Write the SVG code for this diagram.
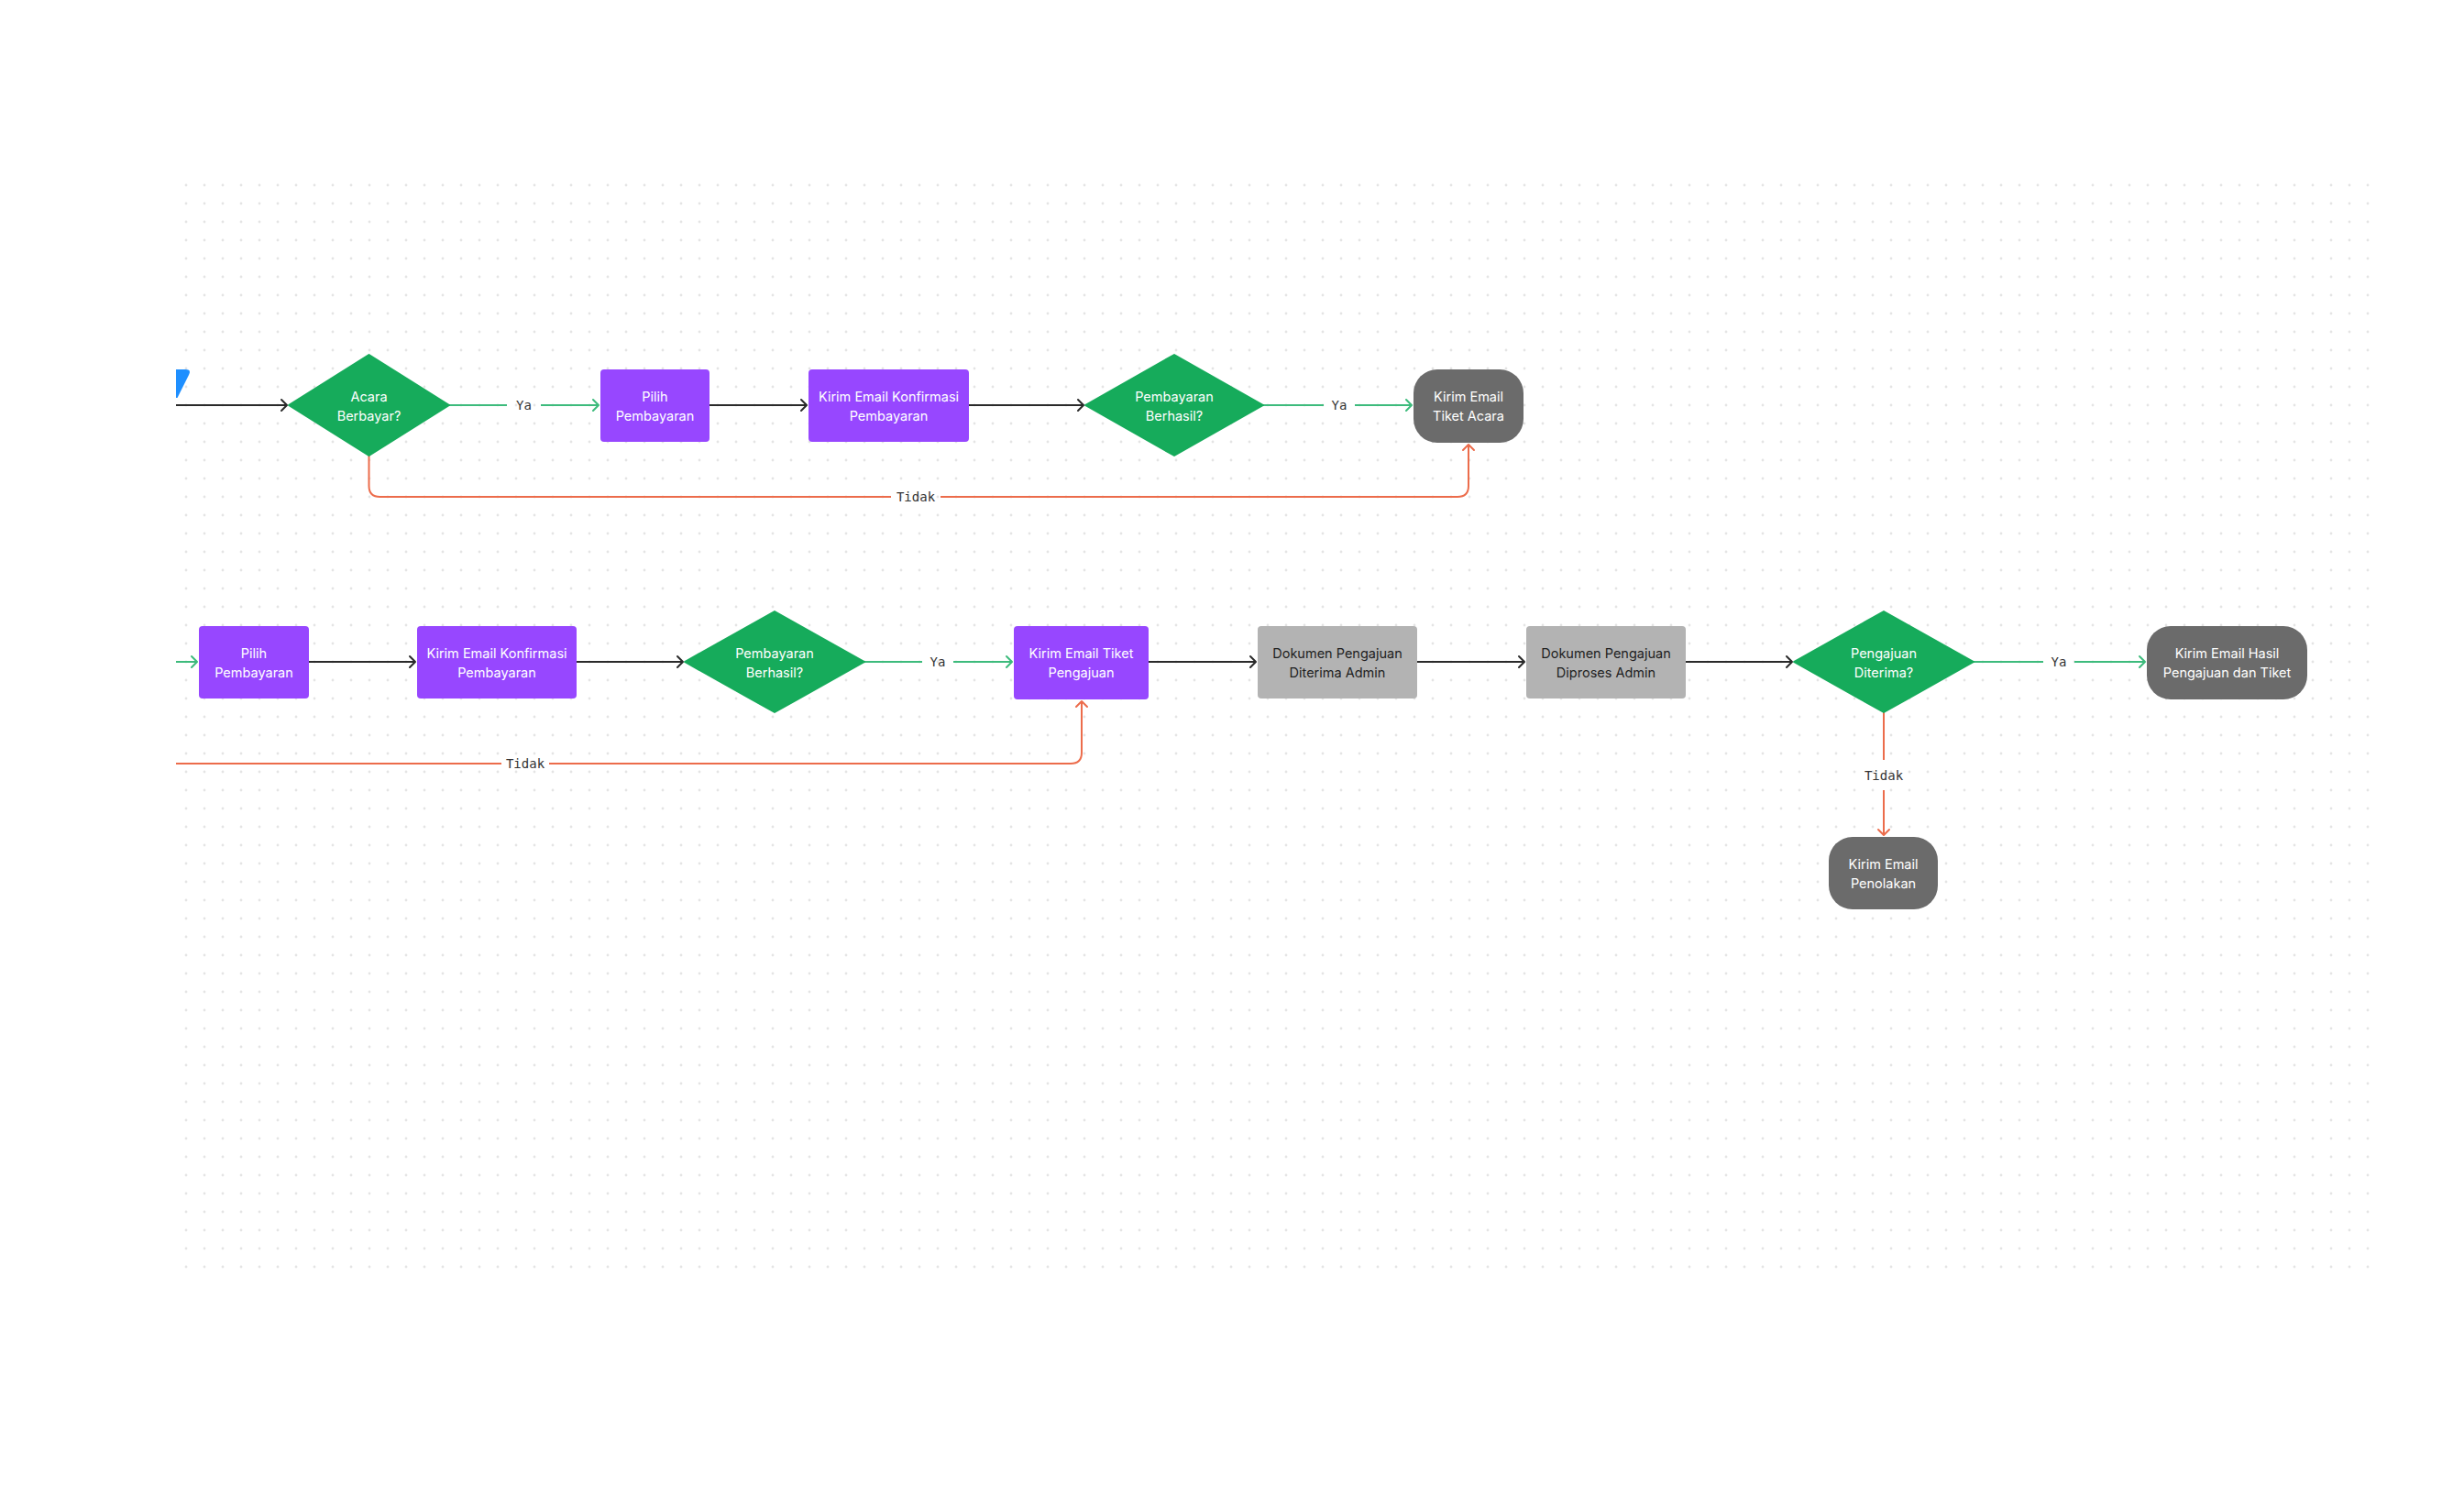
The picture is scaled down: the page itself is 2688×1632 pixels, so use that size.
<svg xmlns="http://www.w3.org/2000/svg" width="2688" height="1632" viewBox="0 0 2688 1632">
<defs>
<pattern id="dots" x="193" y="192" width="20" height="20" patternUnits="userSpaceOnUse">
<circle cx="10" cy="10" r="1.4" fill="#e4e4e4"/>
</pattern>
<marker id="ab" viewBox="-10 -10 20 20" markerWidth="20" markerHeight="20" refX="0" refY="0" orient="auto" markerUnits="userSpaceOnUse"><path d="M-6,-6 L0,0 L-6,6" fill="none" stroke="#2a2a2a" stroke-width="2" stroke-linejoin="round" stroke-linecap="round"/></marker>
<marker id="ag" viewBox="-10 -10 20 20" markerWidth="20" markerHeight="20" refX="0" refY="0" orient="auto" markerUnits="userSpaceOnUse"><path d="M-6,-6 L0,0 L-6,6" fill="none" stroke="#3dbb7c" stroke-width="2" stroke-linejoin="round" stroke-linecap="round"/></marker>
<marker id="ao" viewBox="-10 -10 20 20" markerWidth="20" markerHeight="20" refX="0" refY="0" orient="auto" markerUnits="userSpaceOnUse"><path d="M-6,-6 L0,0 L-6,6" fill="none" stroke="#ec6c4b" stroke-width="2" stroke-linejoin="round" stroke-linecap="round"/></marker>
</defs>
<style>
.dia{fill:#16ab5b}
.pur{fill:#9747ff}
.gry{fill:#b3b3b3}
.drk{fill:#6b6b6b}
.t{font-family:Inter,"Liberation Sans",sans-serif;font-size:14.5px;text-anchor:middle;fill:#ffffff}
.td{font-family:Inter,"Liberation Sans",sans-serif;font-size:14.5px;text-anchor:middle;fill:#1e1e1e}
.lbl{font-family:"DejaVu Sans Mono","Liberation Mono",monospace;font-size:14px;text-anchor:middle;fill:#333333}
.cb{fill:none;stroke:#2a2a2a;stroke-width:2}
.cg{fill:none;stroke:#3dbb7c;stroke-width:2}
.co{fill:none;stroke:#ec6c4b;stroke-width:2}
</style>
<rect width="2688" height="1632" fill="#ffffff"/>
<rect x="193" y="192" width="2400" height="1200" fill="url(#dots)"/>
<path d="M192,403 H203 Q209,403 206,409 L193.5,434 H192 Z" fill="#1e8fff"/>

<g id="connectors">
<path class="cb" d="M192,442 H313" marker-end="url(#ab)"/>
<path class="cg" d="M490,442 H553"/>
<path class="cg" d="M590,442 H653" marker-end="url(#ag)"/>
<text class="lbl" x="571.5" y="447">Ya</text>
<path class="cb" d="M774,442 H880" marker-end="url(#ab)"/>
<path class="cb" d="M1057,442 H1182" marker-end="url(#ab)"/>
<path class="cg" d="M1378,442 H1444"/>
<path class="cg" d="M1478,442 H1540" marker-end="url(#ag)"/>
<text class="lbl" x="1461" y="447">Ya</text>
<path class="co" d="M402.5,497 V530 Q402.5,542 414.5,542 H972"/>
<path class="co" d="M1026,542 H1590 Q1602,542 1602,530 V485" marker-end="url(#ao)"/>
<text class="lbl" x="999" y="547">Tidak</text>

<path class="cg" d="M192,722 H215" marker-end="url(#ag)"/>
<path class="cb" d="M337,722 H453" marker-end="url(#ab)"/>
<path class="cb" d="M629,722 H745" marker-end="url(#ab)"/>
<path class="cg" d="M943,722 H1006"/>
<path class="cg" d="M1040,722 H1104" marker-end="url(#ag)"/>
<text class="lbl" x="1023" y="727">Ya</text>
<path class="cb" d="M1253,722 H1370" marker-end="url(#ab)"/>
<path class="cb" d="M1546,722 H1663" marker-end="url(#ab)"/>
<path class="cb" d="M1839,722 H1955" marker-end="url(#ab)"/>
<path class="cg" d="M2153,722 H2229"/>
<path class="cg" d="M2263,722 H2340" marker-end="url(#ag)"/>
<text class="lbl" x="2246" y="727">Ya</text>
<path class="co" d="M192,833 H547"/>
<path class="co" d="M599,833 H1168 Q1180,833 1180,821 V765" marker-end="url(#ao)"/>
<text class="lbl" x="573" y="838">Tidak</text>
<path class="co" d="M2055,777 V829"/>
<path class="co" d="M2055,862 V911" marker-end="url(#ao)"/>
<text class="lbl" x="2055" y="851">Tidak</text>
</g>

<g id="acara-berbayar">
<path class="dia" d="M315,442 L402.5,387 L490,442 L402.5,497 Z" stroke="#16ab5b" stroke-width="2" stroke-linejoin="round"/>
<text class="t" x="402.5" y="438">Acara</text>
<text class="t" x="402.5" y="459">Berbayar?</text>
</g>
<g id="pilih-pembayaran-1">
<rect class="pur" x="655" y="403" width="119" height="79" rx="4"/>
<text class="t" x="714.5" y="438">Pilih</text>
<text class="t" x="714.5" y="459">Pembayaran</text>
</g>
<g id="konfirmasi-1">
<rect class="pur" x="882" y="403" width="175" height="79" rx="4"/>
<text class="t" x="969.5" y="438">Kirim Email Konfirmasi</text>
<text class="t" x="969.5" y="459">Pembayaran</text>
</g>
<g id="berhasil-1">
<path class="dia" d="M1184,442 L1281,387 L1378,442 L1281,497 Z" stroke="#16ab5b" stroke-width="2" stroke-linejoin="round"/>
<text class="t" x="1281" y="438">Pembayaran</text>
<text class="t" x="1281" y="459">Berhasil?</text>
</g>
<g id="tiket-acara">
<rect class="drk" x="1542" y="403" width="120" height="80" rx="26"/>
<text class="t" x="1602" y="438">Kirim Email</text>
<text class="t" x="1602" y="459">Tiket Acara</text>
</g>

<g id="pilih-pembayaran-2">
<rect class="pur" x="217" y="683" width="120" height="79" rx="4"/>
<text class="t" x="277" y="718">Pilih</text>
<text class="t" x="277" y="739">Pembayaran</text>
</g>
<g id="konfirmasi-2">
<rect class="pur" x="455" y="683" width="174" height="79" rx="4"/>
<text class="t" x="542" y="718">Kirim Email Konfirmasi</text>
<text class="t" x="542" y="739">Pembayaran</text>
</g>
<g id="berhasil-2">
<path class="dia" d="M747,722 L845,667 L943,722 L845,777 Z" stroke="#16ab5b" stroke-width="2" stroke-linejoin="round"/>
<text class="t" x="845" y="718">Pembayaran</text>
<text class="t" x="845" y="739">Berhasil?</text>
</g>
<g id="tiket-pengajuan">
<rect class="pur" x="1106" y="683" width="147" height="80" rx="4"/>
<text class="t" x="1179.5" y="718">Kirim Email Tiket</text>
<text class="t" x="1179.5" y="739">Pengajuan</text>
</g>
<g id="dokumen-diterima">
<rect class="gry" x="1372" y="683" width="174" height="79" rx="4"/>
<text class="td" x="1459" y="718">Dokumen Pengajuan</text>
<text class="td" x="1459" y="739">Diterima Admin</text>
</g>
<g id="dokumen-diproses">
<rect class="gry" x="1665" y="683" width="174" height="79" rx="4"/>
<text class="td" x="1752" y="718">Dokumen Pengajuan</text>
<text class="td" x="1752" y="739">Diproses Admin</text>
</g>
<g id="pengajuan-diterima">
<path class="dia" d="M1957,722 L2055,667 L2153,722 L2055,777 Z" stroke="#16ab5b" stroke-width="2" stroke-linejoin="round"/>
<text class="t" x="2055" y="718">Pengajuan</text>
<text class="t" x="2055" y="739">Diterima?</text>
</g>
<g id="hasil-pengajuan">
<rect class="drk" x="2342" y="683" width="175" height="80" rx="26"/>
<text class="t" x="2429.5" y="718">Kirim Email Hasil</text>
<text class="t" x="2429.5" y="739">Pengajuan dan Tiket</text>
</g>
<g id="penolakan">
<rect class="drk" x="1995" y="913" width="119" height="79" rx="26"/>
<text class="t" x="2054.5" y="948">Kirim Email</text>
<text class="t" x="2054.5" y="969">Penolakan</text>
</g>
</svg>
